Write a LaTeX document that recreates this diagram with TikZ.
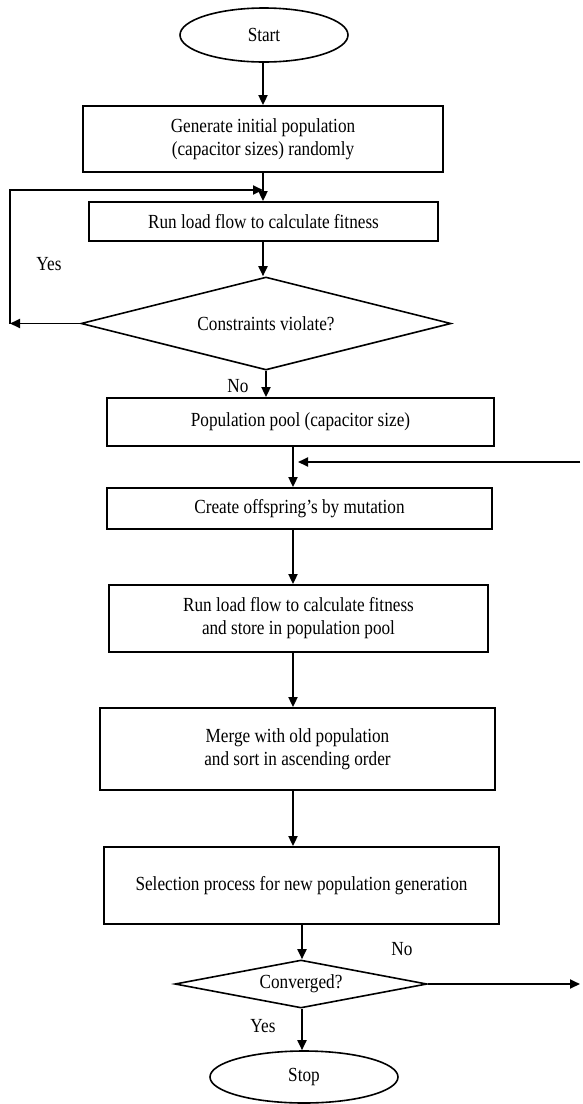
\documentclass[tikz,border=0pt]{standalone}
\usepackage{fontspec}
\setmainfont[FakeStretch=0.86]{Liberation Serif}
\usetikzlibrary{shapes.geometric,arrows.meta}
\begin{document}
\begin{tikzpicture}[x=1pt,y=-1pt,
  every node/.style={font=\fontsize{20}{23}\selectfont, inner sep=0pt},
  box/.style={draw, line width=1.8pt, rectangle, align=center},
  term/.style={draw, line width=1.6pt, ellipse},
  decide/.style={draw, line width=1.6pt, diamond},
  arr/.style={line width=1.8pt, -{Triangle[length=10pt,width=9pt]}},
  lbl/.style={}]
\useasboundingbox (0,0) rectangle (582,1104);
\node[term, minimum width=168pt, minimum height=54pt] (start) at (264,35) {Start};
\node[box, minimum width=360pt, minimum height=66pt] (gen) at (263,139) {Generate initial population\\(capacitor sizes) randomly};
\node[box, minimum width=349pt, minimum height=39pt] (run1) at (263.5,221.5) {Run load flow to calculate fitness};
\node[decide, shape aspect=3.98, minimum width=370pt, minimum height=93pt] (cons) at (266,323.5) {Constraints violate?};
\node[box, minimum width=387pt, minimum height=48pt] (pool) at (300.5,422) {Population pool (capacitor size)};
\node[box, minimum width=385pt, minimum height=41pt] (create) at (299.5,508.5) {Create offspring’s by mutation};
\node[box, minimum width=379pt, minimum height=67pt] (run2) at (298.5,618.5) {Run load flow to calculate fitness\\and store in population pool};
\node[box, minimum width=395pt, minimum height=82pt] (merge) at (297.5,749) {Merge with old population\\and sort in ascending order};
\node[box, minimum width=395pt, minimum height=77pt] (select) at (301.5,885.5) {Selection process for new population generation};
\node[decide, shape aspect=5.25, minimum width=252pt, minimum height=48pt] (conv) at (301,984) {Converged?};
\node[term, minimum width=188pt, minimum height=52pt] (stop) at (304,1077) {Stop};

\node[lbl] (yes1) at (49,264) {Yes};
\node[lbl] (no1) at (238,386) {No};
\node[lbl] (no2) at (402,949) {No};
\node[lbl] (yes2) at (263,1026) {Yes};

\coordinate (c1) at (263,0);
\coordinate (c2) at (293,0);
\coordinate (c3) at (302,0);
\coordinate (yl) at (10,323.5);
\coordinate (yt) at (10,190);
\coordinate (jt) at (263,190);
\coordinate (rin) at (580,462);
\coordinate (rtip) at (298,462);
\coordinate (rout) at (580,984);

\draw[arr] (start.south -| c1) -- (gen.north -| c1);
\draw[arr] (gen.south -| c1) -- (run1.north -| c1);
\draw[arr] (run1.south -| c1) -- (cons.north -| c1);
\draw[arr] (cons.west) -- (yl);
\draw[arr] (yl) -- (yt) -- (jt);
\draw[arr] (cons.south) -- (cons.south |- pool.north);
\draw[arr] (pool.south -| c2) -- (create.north -| c2);
\draw[arr] (rin) -- (rtip);
\draw[arr] (create.south -| c2) -- (run2.north -| c2);
\draw[arr] (run2.south -| c2) -- (merge.north -| c2);
\draw[arr] (merge.south -| c2) -- (select.north -| c2);
\draw[arr] (select.south -| c3) -- (conv.north -| c3);
\draw[arr] (conv.east) -- (rout);
\draw[arr] (conv.south -| c3) -- (stop.north -| c3);
\end{tikzpicture}
\end{document}
